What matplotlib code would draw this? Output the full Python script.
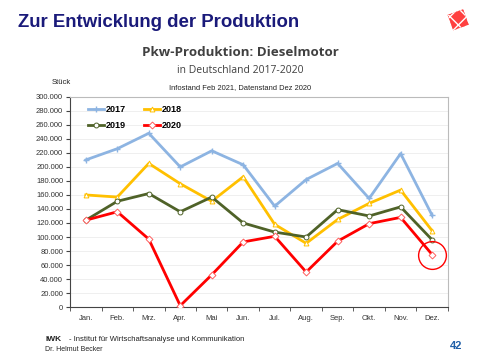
#!/usr/bin/env python3
"""Pkw-Produktion Dieselmotor 2017-2020, monthly line chart."""

import numpy as np
import matplotlib
matplotlib.use('Agg')
import matplotlib.pyplot as plt
from matplotlib.ticker import FuncFormatter, MultipleLocator, FixedLocator
from matplotlib.patches import Rectangle
import matplotlib.transforms as mtransforms

MONTHS = ['Jan.', 'Feb.', 'Mrz.', 'Apr.', 'Mai', 'Jun.',
          'Jul.', 'Aug.', 'Sep.', 'Okt.', 'Nov.', 'Dez.']

Y2017 = [210000, 226000, 248000, 200000, 223000, 203000,
         144000, 182000, 205000, 155000, 219000, 131000]
Y2018 = [160000, 157000, 205000, 176000, 151000, 186000,
         118000, 91000, 125000, 148000, 167000, 109000]
Y2019 = [124000, 151000, 162000, 136000, 157000, 120000,
         107000, 100000, 139000, 130000, 143000, 96000]
Y2020 = [124000, 136000, 97000, 2000, 46000, 93000,
         101000, 50000, 94000, 119000, 128000, 75000]

SERIES = [
    ('2017', Y2017, '#8DB4E2', '+'),
    ('2018', Y2018, '#FFC000', '^'),
    ('2019', Y2019, '#4F6228', 'o'),
    ('2020', Y2020, '#FF0000', 'D'),
]

FONT = 'Liberation Sans'
plt.rcParams['font.family'] = [FONT, 'DejaVu Sans']


def thousands(v, _):
    return f'{int(v):,}'.replace(',', '.')


def plot():
    fig = plt.figure(figsize=(4.8, 3.6), dpi=100)
    ax = fig.add_axes([0.146, 0.147, 0.787, 0.584])

    x = np.arange(len(MONTHS))
    handles = {}
    for lbl, vals, color, mk in SERIES:
        if mk == '+':
            h, = ax.plot(x, vals, color=color, lw=2.0, marker=mk, ms=5,
                         mew=1.0, label=lbl, zorder=3)
        else:
            h, = ax.plot(x, vals, color=color, lw=2.0, marker=mk, ms=3.5,
                         mfc='white', mec=color if mk != 'D' else '#FF6060',
                         mew=0.7, label=lbl, zorder=3)
        handles[lbl] = h

    # highlight last 2020 value
    ax.plot(x[-1], Y2020[-1], marker='o', ms=20, mfc='none', mec='#FF0000',
            mew=1.0, clip_on=False, zorder=4)

    ax.set_xlim(-0.5, len(MONTHS) - 0.5)
    ax.set_ylim(0, 300000)
    ax.yaxis.set_major_locator(MultipleLocator(20000))
    ax.yaxis.set_major_formatter(FuncFormatter(thousands))
    ax.set_xticks(x)
    ax.set_xticklabels(MONTHS)
    ax.xaxis.set_minor_locator(FixedLocator(np.arange(-0.5, len(MONTHS), 1.0)))
    ax.tick_params(axis='x', which='major', length=0, labelsize=5.5,
                   colors='#333333', pad=6)
    ax.tick_params(axis='x', which='minor', length=3, color='#444444')
    ax.tick_params(axis='y', length=3, labelsize=5.5, colors='#333333',
                   color='#444444', pad=2)

    ax.grid(axis='y', color='#ECECEC', lw=0.6)
    ax.set_axisbelow(True)
    for side in ('top', 'right'):
        ax.spines[side].set_color('#BBBBBB')
        ax.spines[side].set_linewidth(0.8)
    for side in ('left', 'bottom'):
        ax.spines[side].set_color('#444444')
        ax.spines[side].set_linewidth(0.8)

    order = ['2017', '2019', '2018', '2020']
    ax.legend([handles[k] for k in order], order, loc='upper left', ncol=2,
              frameon=False, prop={'size': 6.5, 'weight': 'bold'},
              handlelength=1.8, columnspacing=2.0, labelspacing=0.75,
              bbox_to_anchor=(0.025, 1.0), handletextpad=0.2)

    # headers
    fig.text(0.038, 0.937, 'Zur Entwicklung der Produktion', fontsize=13.4,
             fontweight='bold', color='#1A1A7A', va='center', ha='left')
    fig.text(0.5, 0.855, 'Pkw-Produktion: Dieselmotor', fontsize=9.6,
             fontweight='bold', color='#404040', va='center', ha='center',
             family=['Open Sans', 'DejaVu Sans'])
    fig.text(0.5, 0.805, 'in Deutschland 2017-2020', fontsize=7.5,
             color='#404040', va='center', ha='center',
             family=['Open Sans', 'DejaVu Sans'])
    fig.text(0.5, 0.756, 'Infostand Feb 2021, Datenstand Dez 2020',
             fontsize=5.4, color='#222222', va='center', ha='center')
    fig.text(0.108, 0.772, 'Stück', fontsize=5.5, color='#222222',
             va='center', ha='left')

    # logo
    logo = fig.add_axes([0.932, 0.915, 0.045, 0.06])
    logo.set_xlim(0, 1)
    logo.set_ylim(0, 1)
    logo.axis('off')
    tr = mtransforms.Affine2D().rotate_deg_around(0.5, 0.5, 20) + logo.transData
    logo.add_patch(Rectangle((0.12, 0.12), 0.76, 0.76, fc='#FF4040',
                             ec='#FF4040', hatch='++++', lw=0,
                             transform=tr))
    plt.rcParams['hatch.color'] = 'white'
    logo.add_patch(Rectangle((0.12, 0.12), 0.76, 0.76, fc='none',
                             ec='white', hatch='xx', lw=0,
                             transform=tr))

    # footer
    fig.text(0.094, 0.058, 'IWK', fontsize=6, fontweight='bold',
             color='#222222', va='center', ha='left')
    fig.text(0.143, 0.058,
             '- Institut für Wirtschaftsanalyse und Kommunikation',
             fontsize=5.5, color='#222222', va='center', ha='left')
    fig.text(0.094, 0.030, 'Dr. Helmut Becker', fontsize=5,
             color='#222222', va='center', ha='left')
    fig.text(0.95, 0.040, '42', fontsize=8, fontweight='bold',
             color='#1F5FA8', va='center', ha='center')

    fig.savefig('out.png', dpi=100)


if __name__ == '__main__':
    plot()
